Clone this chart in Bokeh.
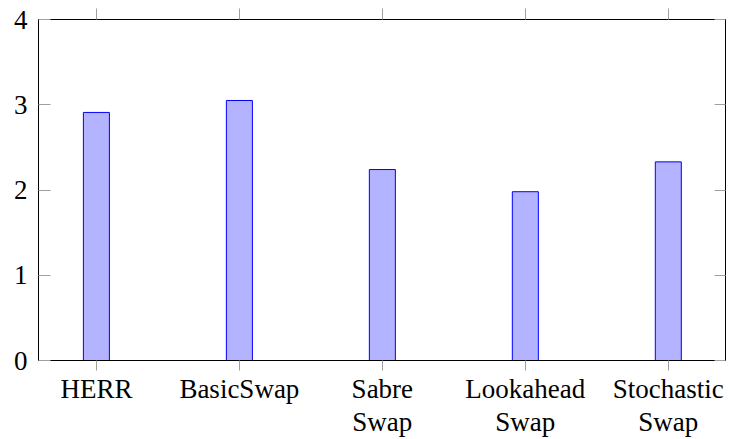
from bokeh.plotting import figure
from bokeh.models import LinearAxis, FixedTicker, Range1d
from bokeh.embed import file_html
from bokeh.resources import INLINE

categories = ["HERR", "BasicSwap", "Sabre Swap", "Lookahead Swap", "Stochastic Swap"]
values = [2.91, 3.05, 2.24, 1.98, 2.33]
y_ticks = [0, 1, 2, 3, 4]

FONT = "Liberation Serif"
TICK_COLOR = "#a0a0a0"

xs = list(range(len(categories)))

p = figure(width=752, height=439, output_backend="svg", toolbar_location=None,
           x_range=Range1d(-0.405, 4.4), y_range=Range1d(0, 4),
           min_border_left=38, min_border_right=27, min_border_top=19, min_border_bottom=78)
p.grid.visible = False
p.outline_line_color = "black"
p.outline_line_width = 1
p.outline_line_alpha = 1
p.background_fill_color = "white"
p.border_fill_color = "white"

p.vbar(x=xs, top=values, width=0.182, bottom=0,
       fill_color="#b3b3ff", line_color="#0000ff", line_width=1)

# left axis
ya = p.yaxis[0]
ya.ticker = FixedTicker(ticks=y_ticks)
ya.major_tick_in = 12
ya.major_tick_out = 0
ya.minor_tick_line_color = None
ya.major_tick_line_color = TICK_COLOR
ya.axis_line_color = "black"
ya.major_label_text_font = FONT
ya.major_label_text_font_size = "27px"
ya.major_label_text_color = "black"
ya.major_label_standoff = 11

# bottom axis with two-line category labels
xa = p.xaxis[0]
xa.ticker = FixedTicker(ticks=xs)
xa.major_tick_in = 0
xa.major_tick_out = 10
xa.minor_tick_line_color = None
xa.major_tick_line_color = TICK_COLOR
xa.axis_line_color = "black"
xa.major_label_overrides = {i: cat.replace(" ", "\n") for i, cat in zip(xs, categories)}
xa.major_label_text_font = FONT
xa.major_label_text_font_size = "27px"
xa.major_label_text_color = "black"
xa.major_label_text_line_height = 1.1
xa.major_label_standoff = 3

# top axis (ticks only)
top = LinearAxis(ticker=FixedTicker(ticks=xs), major_tick_in=0, major_tick_out=11,
                 minor_tick_line_color=None, major_tick_line_color=TICK_COLOR,
                 axis_line_color="black", major_label_overrides={i: "" for i in xs},
                 major_label_text_font_size="0px", major_label_standoff=0)
p.add_layout(top, "above")

# right axis (ticks only)
right = LinearAxis(ticker=FixedTicker(ticks=y_ticks), major_tick_in=11, major_tick_out=0,
                   minor_tick_line_color=None, major_tick_line_color=TICK_COLOR,
                   axis_line_color="black", major_label_overrides={i: "" for i in y_ticks},
                   major_label_text_font_size="0px", major_label_standoff=0)
p.add_layout(right, "right")

open("out.html", "w").write(file_html(p, INLINE))
